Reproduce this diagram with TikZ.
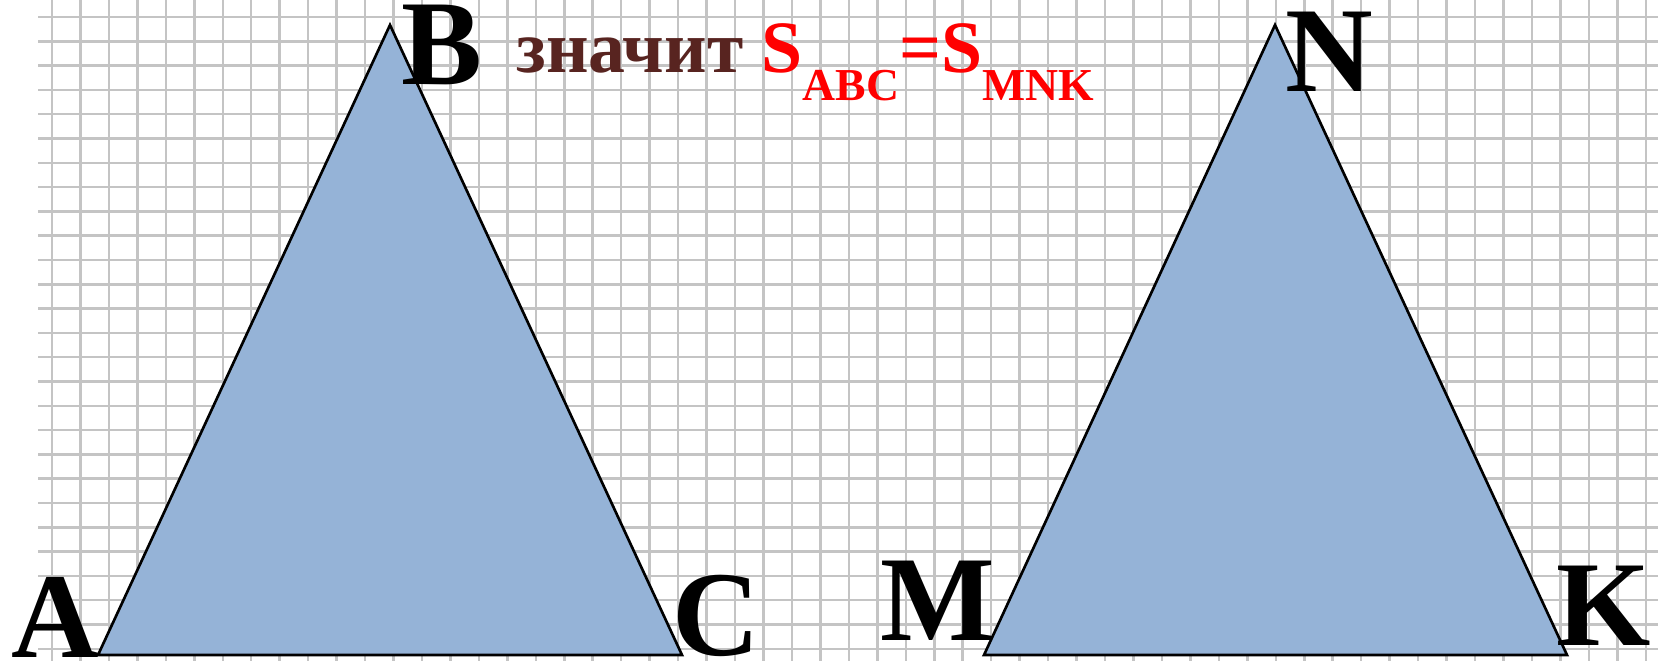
\documentclass[tikz,border=0pt]{standalone}
\usepackage{fontspec}
\setmainfont{Liberation Serif}
\usetikzlibrary{positioning}
\definecolor{fillblue}{HTML}{95B3D7}
\definecolor{wordbrown}{HTML}{582420}
\definecolor{gridgray}{HTML}{C4C4C4}
\newcommand{\lowidx}[1]{\raisebox{-0.27cm}{\fontsize{13}{14}\selectfont #1}}

\begin{document}
\begin{tikzpicture}[x=0.01cm, y=-0.01cm,
    tri/.style={draw=black, line width=0.75pt, fill=fillblue},
    vlabel/.style={anchor=base west, inner sep=0pt, font=\fontsize{34.5}{36}\selectfont\bfseries},
    gridline/.style={gridgray, line width=0.025cm}]
    \fill[white] (0,0) rectangle (1658,661);
    \useasboundingbox (0,0) rectangle (1658,661);
    \foreach \i in {0,...,56}
      \draw[gridline] ({52+28.46*\i},0) -- ({52+28.46*\i},661);
    \foreach \j in {0,...,26}
      \draw[gridline] (38,{17+24.3*\j}) -- (1658,{17+24.3*\j});

    \coordinate (A) at (98,655);
    \coordinate (B) at (390,25);
    \coordinate (C) at (682,655);
    \coordinate (M) at (984,655);
    \coordinate (N) at (1275,25);
    \coordinate (K) at (1567,655);
    \draw[tri] (A) -- (B) -- (C) -- cycle;
    \draw[tri] (M) -- (N) -- (K) -- cycle;

    \node[vlabel] (lA) at (11,657)   {A};
    \node[vlabel] (lB) at (401,85)   {B};
    \node[vlabel] (lC) at (672,655)  {C};
    \node[vlabel] (lM) at (880,640)  {M};
    \node[vlabel] (lN) at (1285,92)  {N};
    \node[vlabel] (lK) at (1556,645) {K};

    \node[anchor=base west, inner sep=0pt, font=\fontsize{21}{24}\selectfont\bfseries] (note) at (516,73)
      {\textcolor{wordbrown}{значит} \textcolor{red}{S\lowidx{ABC}=S\lowidx{MNK}}};
  \end{tikzpicture}
\end{document}
